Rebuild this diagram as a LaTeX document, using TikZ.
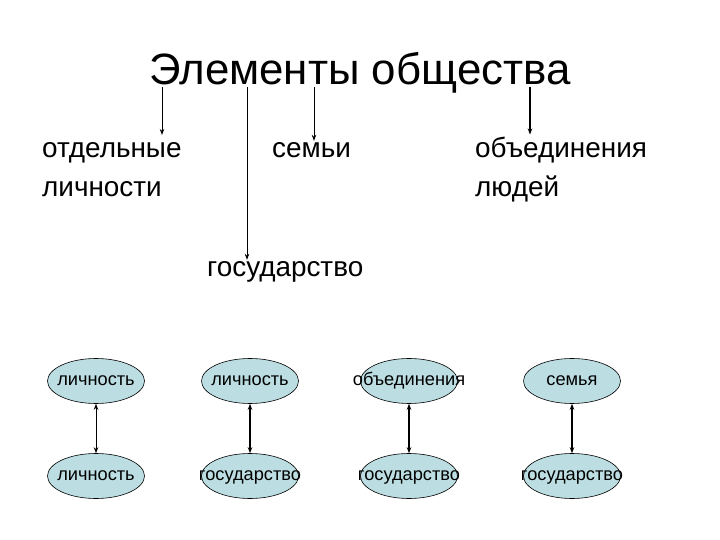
\documentclass[tikz,border=0pt]{standalone}
\usepackage{fontspec}
\setmainfont{Liberation Sans}
\usetikzlibrary{arrows.meta,shapes.geometric}
\definecolor{ovalfill}{RGB}{188,222,226}
\tikzset{
  oval/.style={ellipse, draw, line width=0.6bp, fill=ovalfill, minimum width=97bp, minimum height=45bp, inner sep=0pt},
  ovaltext/.style={font=\fontsize{18.3}{20}\selectfont, inner sep=0pt, text height=12.5bp, text depth=3.5bp},
  arr/.style={-{Stealth[length=6bp,width=4.5bp]}, line width=0.8bp},
  link/.style={{Stealth[length=6bp,width=4.5bp]}-{Stealth[length=6bp,width=4.5bp]}},
  lbl/.style={font=\fontsize{28}{39}\selectfont, inner sep=2bp, align=left},
}

\begin{document}
\begin{tikzpicture}[x=1bp, y=-1bp]
  \useasboundingbox (0,0) rectangle (720,540);
  \node[inner sep=0pt, text depth=2bp, anchor=base, font=\fontsize{44}{50}\selectfont] (title) at (360,85) {Элементы общества};
  \node[lbl, anchor=base west] (indiv) at (40,197) {отдельные\\[1bp]личности};
  \node[lbl, anchor=base west] (fam) at (270,158) {семьи};
  \node[lbl, anchor=base west] (assoc) at (473,197) {объединения\\[1bp]людей};
  \node[lbl, anchor=base west] (state) at (205,277) {государство};
  \draw[arr, shorten >=5bp] (title.south -| 162,0) -- (indiv.north -| 162,0);
  \draw[arr] (title.south -| 247,0) -- (state.north -| 247,0);
  \draw[arr] (title.south -| 314,0) -- (fam.north -| 314,0);
  \draw[arr, line width=1.6bp] (title.south -| 530,0) -- (assoc.north -| 530,0);
  \foreach \x/\up/\down/\w [count=\i] in {96/личность/личность/0.8, 250/личность/государство/1.6, 409/объединения/государство/1.6, 572/семья/государство/1.6} {
    \node[oval, label={[ovaltext]center:\up}] (u\i) at (\x,381) {};
    \node[oval, label={[ovaltext]center:\down}] (d\i) at (\x,476) {};
    \draw[link, line width=\w bp] (u\i) -- (d\i);
  }
\end{tikzpicture}
\end{document}
